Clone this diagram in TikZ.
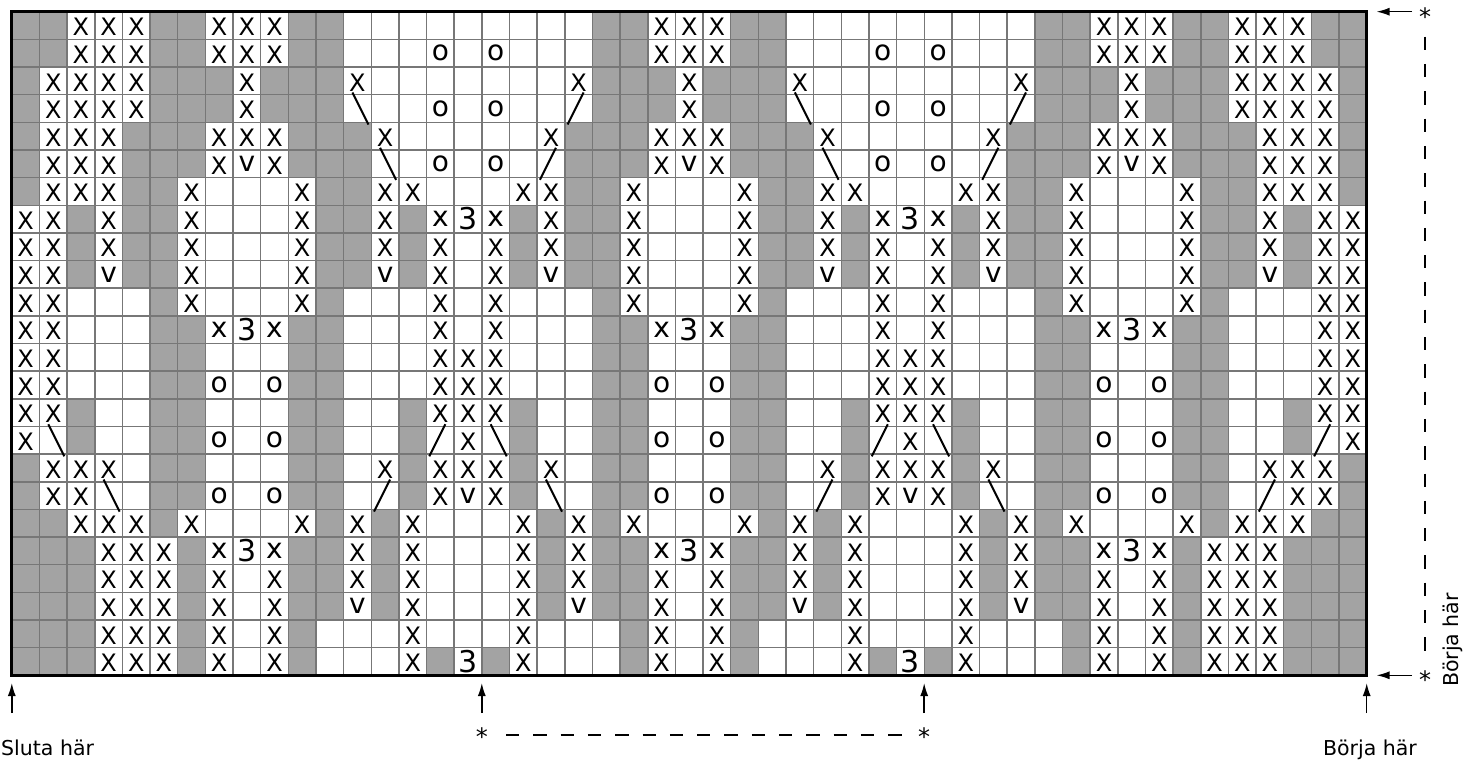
\documentclass[tikz,border=0pt]{standalone}
\usepackage{fontspec}
\setmainfont{DejaVu Sans}
\usetikzlibrary{arrows.meta}
\definecolor{chartgray}{HTML}{A3A3A3}
\definecolor{gridcol}{HTML}{777777}

% left half of the chart, columns 1..25 (the right half is its mirror image)
% g = grey, w = white, X = X, x = small x, v = v, o = o, 3 = 3, L = \ line, R = / line
\def\chartdata{%
{g,g,X,X,X,g,g,X,X,X,g,g,w,w,w,w,w,w,w,w,w,g,g,X,X},%
{g,g,X,X,X,g,g,X,X,X,g,g,w,w,w,o,w,o,w,w,w,g,g,X,X},%
{g,X,X,X,X,g,g,g,X,g,g,g,X,w,w,w,w,w,w,w,X,g,g,g,X},%
{g,X,X,X,X,g,g,g,X,g,g,g,L,w,w,o,w,o,w,w,R,g,g,g,X},%
{g,X,X,X,g,g,g,X,X,X,g,g,g,X,w,w,w,w,w,X,g,g,g,X,X},%
{g,X,X,X,g,g,g,X,v,X,g,g,g,L,w,o,w,o,w,R,g,g,g,X,v},%
{g,X,X,X,g,g,X,w,w,w,X,g,g,X,X,w,w,w,X,X,g,g,X,w,w},%
{X,X,g,X,g,g,X,w,w,w,X,g,g,X,g,x,3,x,g,X,g,g,X,w,w},%
{X,X,g,X,g,g,X,w,w,w,X,g,g,X,g,X,w,X,g,X,g,g,X,w,w},%
{X,X,g,v,g,g,X,w,w,w,X,g,g,v,g,X,w,X,g,v,g,g,X,w,w},%
{X,X,w,w,w,g,X,w,w,w,X,g,w,w,w,X,w,X,w,w,w,g,X,w,w},%
{X,X,w,w,w,g,g,x,3,x,g,g,w,w,w,X,w,X,w,w,w,g,g,x,3},%
{X,X,w,w,w,g,g,w,w,w,g,g,w,w,w,X,X,X,w,w,w,g,g,w,w},%
{X,X,w,w,w,g,g,o,w,o,g,g,w,w,w,X,X,X,w,w,w,g,g,o,w},%
{X,X,g,w,w,g,g,w,w,w,g,g,w,w,g,X,X,X,g,w,w,g,g,w,w},%
{X,L,g,w,w,g,g,o,w,o,g,g,w,w,g,R,X,L,g,w,w,g,g,o,w},%
{g,X,X,X,w,g,g,w,w,w,g,g,w,X,g,X,X,X,g,X,w,g,g,w,w},%
{g,X,X,L,w,g,g,o,w,o,g,g,w,R,g,X,v,X,g,L,w,g,g,o,w},%
{g,g,X,X,X,g,X,w,w,w,X,g,X,g,X,w,w,w,X,g,X,g,X,w,w},%
{g,g,g,X,X,X,g,x,3,x,g,g,X,g,X,w,w,w,X,g,X,g,g,x,3},%
{g,g,g,X,X,X,g,X,w,X,g,g,X,g,X,w,w,w,X,g,X,g,g,X,w},%
{g,g,g,X,X,X,g,X,w,X,g,g,v,g,X,w,w,w,X,g,v,g,g,X,w},%
{g,g,g,X,X,X,g,X,w,X,g,w,w,w,X,w,w,w,X,w,w,w,g,X,w},%
{g,g,g,X,X,X,g,X,w,X,g,w,w,w,X,g,3,g,X,w,w,w,g,X,w}%
}

% #1 code, #2 column, #3 row
\newcommand\putsym[3]{%
  \if X#1\node[bigx] (s-#2-#3) at (#2-0.5,#3-0.5) {X};\fi
  \if x#1\node[smallsym] (s-#2-#3) at (#2-0.5,#3-0.5) {x};\fi
  \if v#1\node[smallsym] (s-#2-#3) at (#2-0.5,#3-0.5) {v};\fi
  \if o#1\node[smallsym] (s-#2-#3) at (#2-0.5,#3-0.5) {o};\fi
  \if 3#1\node[three] (s-#2-#3) at (#2-0.5,#3-0.5) {3};\fi
  \if L#1\draw[diag] (#2-0.68,#3-1.08) -- (#2-0.1,#3+0.08);\fi
  \if R#1\draw[diag] (#2-0.32,#3-1.08) -- (#2-0.9,#3+0.08);\fi
}

\begin{document}
\begin{tikzpicture}[x=1pt,y=-1pt,
  cellgray/.style={fill=chartgray},
  gridline/.style={draw=gridcol,line width=1.5pt},
  frame/.style={draw=black,line width=3pt},
  sym/.style={inner sep=0pt,outer sep=0pt,text=black},
  bigx/.style={sym,font=\fontsize{24}{24}\selectfont,yshift=-1.5pt},
  smallsym/.style={sym,font=\fontsize{28}{28}\selectfont},
  three/.style={sym,font=\fontsize{30}{30}\selectfont},
  diag/.style={draw=black,line width=2pt},
  arr/.style={draw=black,line width=1.5pt,-{Latex[length=13pt,width=8pt]}},
  dashline/.style={draw=black,line width=2pt,dash pattern=on 13.3pt off 14pt},
  lab/.style={inner sep=0pt,font=\fontsize{20.5}{22}\selectfont},
  astk/.style={inner sep=0pt,font=\fontsize{24}{24}\selectfont}
]
\useasboundingbox (0,0) rectangle (1478,760);
\fill[white] (0,0) rectangle (1478,760);

\begin{scope}[shift={(11.8,11.7)},x=27.65pt,y=-27.65pt]
  % grey cells
  \foreach \d [count=\r] in \chartdata {%
    \foreach \t [count=\c] in \d {%
      \if g\t
        \fill[cellgray] (\c-1,\r-1) rectangle (\c,\r);
        \fill[cellgray] (49-\c,\r-1) rectangle (50-\c,\r);
      \fi
    }%
  }
  % grid
  \foreach \i in {1,...,48} \draw[gridline] (\i,0) -- (\i,24);
  \foreach \j in {1,...,23} \draw[gridline] (0,\j) -- (49,\j);
  % symbols
  \foreach \d [count=\r] in \chartdata {%
    \foreach \t [count=\c] in \d {%
      \putsym{\t}{\c}{\r}%
      \ifnum\c<25
        \pgfmathtruncatemacro\mc{50-\c}%
        \if L\t \def\mt{R}\else \if R\t \def\mt{L}\else \let\mt\t \fi\fi
        \putsym{\mt}{\mc}{\r}%
      \fi
    }%
  }
  \draw[frame] (0,0) rectangle (49,24);
\end{scope}

% right side markers
\node[astk,anchor=north] (starTR) at (1425,7) {*};
\node[astk,anchor=north] (starBR) at (1425,670) {*};
\coordinate (aTRs) at (1412,11.7);
\coordinate (aTRe) at (1376.5,11.7);
\coordinate (aBRs) at (1412,675.3);
\coordinate (aBRe) at (1376.5,675.3);
\draw[arr] (aTRs) -- (aTRe);
\draw[arr] (aBRs) -- (aBRe);
\coordinate (dVs) at (1425,36.7);
\coordinate (dVe) at (1425,651);
\draw[dashline] (dVs) -- (dVe);
\node[lab,anchor=base,rotate=90] (borjaV) at (1458,640) {Börja här};

% bottom markers
\coordinate (uA0) at (11.8,713);   \coordinate (uA1) at (11.8,683);
\coordinate (uB0) at (481.8,713);  \coordinate (uB1) at (481.8,683);
\coordinate (uC0) at (924.2,713);  \coordinate (uC1) at (924.2,683);
\coordinate (uD0) at (1366.7,713); \coordinate (uD1) at (1366.7,683);
\draw[arr] (uA0) -- (uA1);
\draw[arr] (uB0) -- (uB1);
\draw[arr] (uC0) -- (uC1);
\draw[arr] (uD0) -- (uD1);
\node[astk,anchor=north] (starM1) at (481.8,727) {*};
\node[astk,anchor=north] (starM2) at (924.2,727) {*};
\coordinate (dHs) at (506,735);
\coordinate (dHe) at (903,735);
\draw[dashline] (dHs) -- (dHe);
\node[lab,anchor=base west] (sluta) at (1,755) {Sluta här};
\node[lab,anchor=base] (borja) at (1370,755) {Börja här};
\end{tikzpicture}
\end{document}
